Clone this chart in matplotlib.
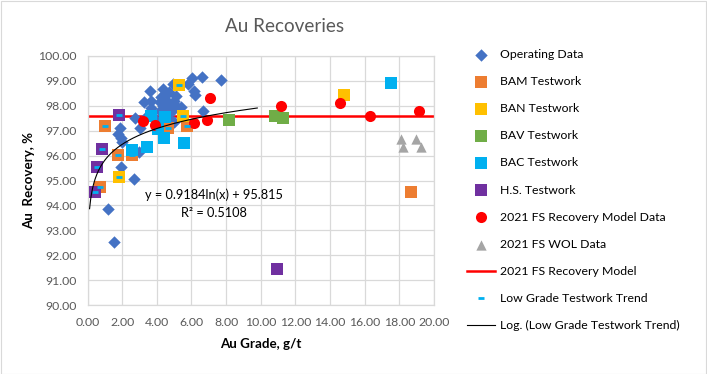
import matplotlib
matplotlib.use("Agg")
import matplotlib.pyplot as plt
import numpy as np
from matplotlib.patches import Rectangle

plt.rcParams['font.family'] = ['Lato', 'DejaVu Sans']

# ---------------- data ----------------
op_grade = [1.19, 1.53, 1.92, 2.66, 3.00, 2.01, 1.92, 1.76, 1.86, 2.72, 3.01, 3.28, 3.58,
            3.68, 3.68, 3.43, 4.16, 4.35, 4.50, 4.58, 4.73, 4.92, 5.02, 5.11, 4.92, 4.54,
            5.40, 5.79, 6.02, 6.17, 6.21, 6.61, 7.70, 6.65, 4.35, 4.16, 4.73, 3.87, 5.11,
            4.25, 4.64, 4.83, 5.02]
op_rec = [93.84, 92.55, 95.53, 95.07, 96.16, 96.53, 96.70, 96.86, 97.09, 97.51, 97.10, 98.17, 98.59,
          98.21, 97.91, 97.60, 98.14, 98.68, 98.48, 98.21, 98.55, 98.88, 98.21, 98.41, 97.94, 97.94,
          97.94, 98.86, 99.11, 98.61, 98.44, 99.14, 99.04, 97.81, 98.00, 97.80, 97.47, 97.47, 98.00,
          98.34, 98.07, 97.74, 97.34]

bam_grade = [1.03, 1.76, 2.59, 0.75, 4.64, 5.75, 18.70]
bam_rec = [97.20, 96.03, 96.03, 94.74, 97.09, 97.20, 94.55]

ban_grade = [1.80, 5.31, 5.54, 14.80]
ban_rec = [95.15, 98.82, 97.60, 98.42]

bav_grade = [8.18, 10.81, 11.26]
bav_rec = [97.43, 97.61, 97.52]

bac_grade = [3.68, 2.59, 3.45, 4.06, 4.44, 4.50, 5.59, 17.50]
bac_rec = [97.60, 96.22, 96.33, 97.07, 96.70, 97.54, 96.50, 98.91]

hs_grade = [1.82, 0.84, 0.52, 0.42, 10.96]
hs_rec = [97.63, 96.26, 95.56, 94.54, 91.43]

fs_grade = [3.20, 3.90, 6.17, 6.90, 7.07, 11.16, 14.56, 16.29, 19.11]
fs_rec = [97.40, 97.24, 97.30, 97.43, 98.30, 98.01, 98.13, 97.61, 97.81]

wol_grade = [18.12, 18.22, 18.94, 19.23]
wol_rec = [96.67, 96.34, 96.67, 96.34]

model_grade = [0.0, 20.0]
model_rec = [97.6, 97.6]

low_grade = [1.03, 1.76, 2.59, 0.75, 4.64, 5.75, 1.80, 5.31, 5.54, 3.68, 2.59, 3.45,
             4.06, 4.44, 4.50, 5.59, 1.82, 0.84, 0.52, 0.42]
low_rec = [97.20, 96.03, 96.03, 94.74, 97.09, 97.20, 95.15, 98.82, 97.60, 97.60, 96.22, 96.33,
           97.07, 96.70, 97.54, 96.50, 97.63, 96.26, 95.56, 94.54]

trend_a, trend_b = 0.9184, 95.815
trend_r2 = 0.5108
trend_range = [0.12, 9.8]

x_ticks = [0, 2, 4, 6, 8, 10, 12, 14, 16, 18, 20]
y_ticks = [90, 91, 92, 93, 94, 95, 96, 97, 98, 99, 100]

# ---------------- figure ----------------
W, H = 707, 374
fig = plt.figure(figsize=(W / 100, H / 100), dpi=100)
fig.patches.append(Rectangle((0.5 / W, 0.5 / H), 1 - 1.5 / W, 1 - 1.5 / H, transform=fig.transFigure,
                             fill=False, edgecolor='#D9D9D9', linewidth=0.8))
ax = fig.add_axes([87.5 / W, 1 - 305 / H, (434 - 87.5) / W, (305 - 56) / H])

grid_c = '#D9D9D9'
text_c = '#595959'
ax.set_xlim(0, 20)
ax.set_ylim(90, 100)
ax.set_xticks(x_ticks)
ax.set_yticks(y_ticks)
ax.set_xticklabels([f"{v:.2f}" for v in x_ticks])
ax.set_yticklabels([f"{v:.2f}" for v in y_ticks])
ax.grid(True, color=grid_c, linewidth=0.9)
ax.set_axisbelow(True)
for s in ax.spines.values():
    s.set_color(grid_c)
    s.set_linewidth(0.9)
ax.tick_params(length=0, labelsize=8.8, labelcolor=text_c)
ax.tick_params(axis='y', pad=8)
ax.tick_params(axis='x', pad=8.5)

ms = 40
sq = 64
ax.scatter(op_grade, op_rec, marker='D', s=ms, color='#4472C4', linewidths=0, zorder=3, label='Operating Data')
ax.scatter(bam_grade, bam_rec, marker='s', s=sq, color='#ED7D31', linewidths=0, zorder=3, label='BAM Testwork')
ax.scatter(ban_grade, ban_rec, marker='s', s=sq, color='#FFC000', linewidths=0, zorder=3, label='BAN Testwork')
ax.scatter(bav_grade, bav_rec, marker='s', s=sq, color='#70AD47', linewidths=0, zorder=3, label='BAV Testwork')
ax.scatter(bac_grade, bac_rec, marker='s', s=sq, color='#00B0F0', linewidths=0, zorder=3, label='BAC Testwork')
ax.scatter(hs_grade, hs_rec, marker='s', s=sq, color='#7030A0', linewidths=0, zorder=3, label='H.S. Testwork')
ax.scatter(fs_grade, fs_rec, marker='o', s=64, color='#FF0000', linewidths=0, zorder=4, label='2021 FS Recovery Model Data')
ax.scatter(wol_grade, wol_rec, marker='^', s=55, color='#A5A5A5', linewidths=0, zorder=3, label='2021 FS WOL Data')
ax.plot(model_grade, model_rec, color='#FF0000', linewidth=1.8, zorder=2, label='2021 FS Recovery Model')
ax.plot(low_grade, low_rec, linestyle='none', marker='_', markersize=4, markeredgewidth=2,
        color='#00B0F0', zorder=5, label='Low Grade Testwork Trend')
xt = np.linspace(trend_range[0], trend_range[1], 300)
ax.plot(xt, trend_a * np.log(xt) + trend_b, color='black', linewidth=0.8, zorder=6,
        label='Log. (Low Grade Testwork Trend)')

ax.text(7.28, 94.42, f"y = {trend_a}ln(x) + {trend_b}", ha='center', va='center', fontsize=9.2, color='black')
ax.text(7.28, 93.71, f"R² = {trend_r2}", ha='center', va='center', fontsize=9.2, color='black')

ax.set_xlabel('Au Grade, g/t', fontsize=9.6, fontweight='bold', color='black', labelpad=7)
ax.set_ylabel('Au  Recovery, %', fontsize=9.6, fontweight='bold', color='black', labelpad=2)
fig.text(285 / W, 1 - 27 / H, 'Au Recoveries', ha='center', va='center', fontsize=13.6, color=text_c)

handles, labels = ax.get_legend_handles_labels()
leg = fig.legend(handles, labels, loc='upper left', bbox_to_anchor=(462 / W, 1 - 44 / H),
                 frameon=False, fontsize=8.8, labelspacing=1.32, handlelength=2.3,
                 handletextpad=0.4, scatterpoints=1, borderaxespad=0)
for t in leg.get_texts():
    t.set_color('black')

fig.savefig('out.png', dpi=100)
